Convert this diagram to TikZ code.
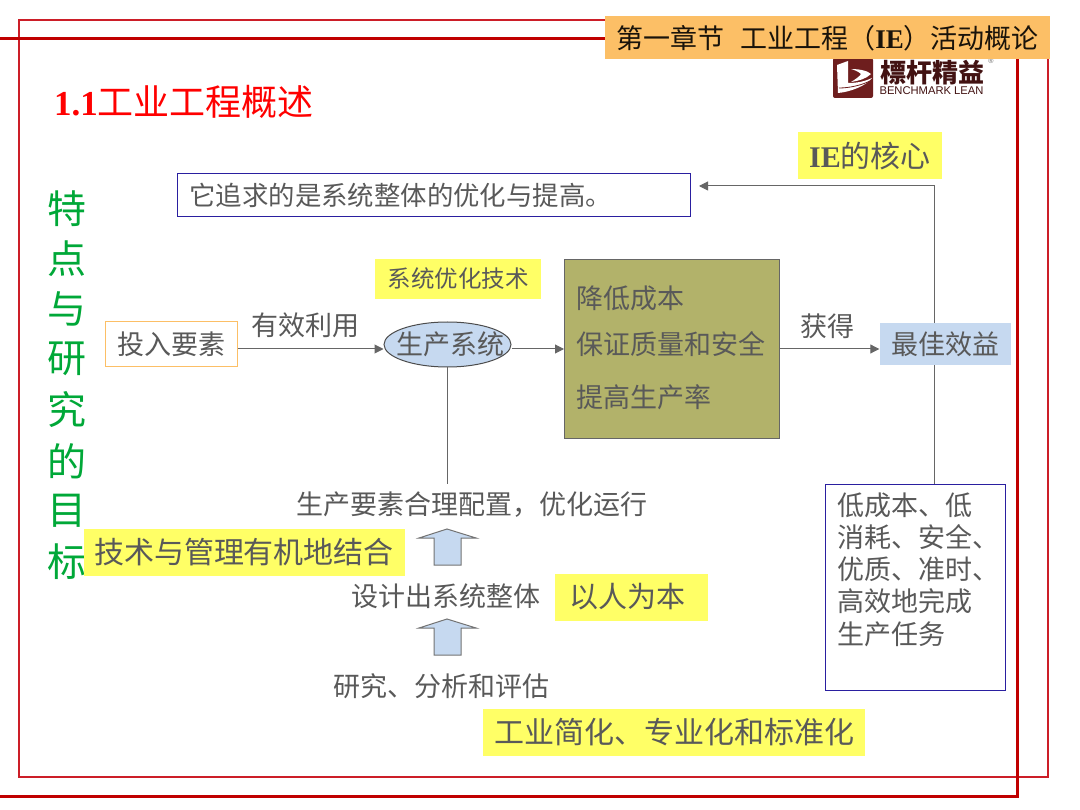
\documentclass[tikz,border=0pt]{standalone}
\usepackage{fontspec}
\usetikzlibrary{arrows.meta,shapes.geometric}
\setmainfont{Liberation Serif}
\newfontfamily\cjk{Noto Sans CJK SC}
\newfontfamily\lsans{Liberation Sans}
\newcommand{\fsz}[1]{\fontsize{#1pt}{#1pt}\selectfont}
\definecolor{framered}{HTML}{C00000}
\definecolor{thinred}{HTML}{CC1E28}
\definecolor{txt}{HTML}{595959}
\definecolor{hl}{HTML}{FFFF66}
\definecolor{orng}{HTML}{FCBF66}
\definecolor{olive}{HTML}{B2B26A}
\definecolor{lblue}{HTML}{C6D9F0}
\definecolor{navy}{HTML}{2A1FA0}
\definecolor{logored}{HTML}{6E1E1E}
\definecolor{grn}{HTML}{00A838}
\tikzset{
 x=1pt,y=-1pt,
 lab/.style={inner sep=0pt,text=txt,font=\cjk\fsz{27}},
 hlbox/.style={fill=hl,inner sep=0pt,text=txt,font=\cjk\fsz{30}},
 conn/.style={draw=black!60,line width=1pt},
 arr/.style={conn,-{Triangle[length=9pt,width=9pt]}},
 bigarrow/.style={draw=black!55,fill=lblue,line width=1pt},
 side/.style={inner sep=0pt,text=grn,font=\cjk\fsz{39}},
}
\begin{document}
\begin{tikzpicture}
\useasboundingbox[fill=white] (0,0) rectangle (1080,810);
% frames
\draw[draw=thinred,line width=1.2pt] (19,20) rectangle (1048,777);
\draw[draw=framered,line width=3pt] (0,39) -- (1017,39) -- (1017,796) -- (0,796);
% logo
\fill[logored,rounded corners=2pt] (833,58) rectangle (873,98);
\fill[white] (837,65) -- (848,61) -- (848,83) .. controls (858,83) and (866,81) .. (872,78) .. controls (866,86) and (850,92) .. (838,93) -- cycle;
\draw[logored,line width=0.8pt] (839,88) .. controls (850,88) and (862,85) .. (870,81);
\fill[white] (851,69) .. controls (860,69) and (868,71) .. (871,74) .. controls (866,79) and (858,81) .. (851,82) .. controls (856,79) and (860,76) .. (861,74) .. controls (859,72) and (855,70) .. (851,69) -- cycle;
\node[inner sep=0pt,text=logored!60!black,font=\cjk\bfseries\fsz{26}] (logoa) at (932.5,73) {標杆精益};
\node[inner sep=0pt,text=logored!60!black,font=\lsans\fsz{11.2}] (logob) at (931.5,90.5) {BENCHMARK LEAN};
\node[inner sep=0pt,text=black!60,font=\lsans\fsz{7}] (logoc) at (991,61) {®};
% header
\node[fill=orng,minimum width=445,minimum height=43,inner sep=0pt,text=black!90!orng] (hdr) at (827.5,38)
  {\cjk\fsz{27}第一章节\hspace{0.6em}工业工程（\textbf{\rmfamily IE}）活动概论};
% title
\node[inner sep=0pt,anchor=west,text=red] (title) at (54,102) {\fsz{35}\textbf{1.1}\cjk\fsz{36}工业工程概述};
% side text
\node[side] (s1) at (67,209) {特};
\node[side] (s2) at (67,259) {点};
\node[side] (s3) at (67,309) {与};
\node[side] (s4) at (67,359) {研};
\node[side] (s5) at (67,410) {究};
\node[side] (s6) at (67,461) {的};
\node[side] (s7) at (67,511) {目};
\node[side] (s8) at (67,562) {标};
% top
\node[hlbox,minimum width=144,minimum height=47] (core) at (870,156) {\rmfamily\textbf{IE}\cjk 的核心};
\node[draw=navy,line width=1pt,fill=white,minimum width=513,minimum height=43,inner sep=0pt,text=txt,font=\cjk\fsz{26.4},text width=489,align=left] (goal) at (434,195.5) {它追求的是系统整体的优化与提高。};
% row
\node[fill=hl,minimum width=166,minimum height=40,inner sep=0pt,text=txt,font=\cjk\fsz{23.5}] (tech) at (458,279) {系统优化技术};
\node[lab,draw=orng,line width=1pt,minimum width=132,minimum height=45] (input) at (171,344) {投入要素};
\node[lab] (use) at (305,325) {有效利用};
\node[draw=black!70,fill=lblue,ellipse,minimum width=127,minimum height=45,inner sep=0pt,line width=1pt] (sys) at (447.5,344.5) {};
\node[lab] (syst) at (450,344) {生产系统};
\node[draw=black!60,fill=olive,line width=1pt,minimum width=215,minimum height=179,inner sep=0pt] (res) at (672,349) {};
\node[lab,anchor=west] (r1) at (576,298) {降低成本};
\node[lab,anchor=west] (r2) at (576,344) {保证质量和安全};
\node[lab,anchor=west] (r3) at (576,397) {提高生产率};
\node[lab] (get) at (827,326) {获得};
\node[lab,fill=lblue,minimum width=131,minimum height=42] (best) at (945,344) {最佳效益};
% lower
\node[lab] (alloc) at (472,505) {生产要素合理配置，优化运行};
\node[hlbox,minimum width=321,minimum height=47] (mgmt) at (244,552) {技术与管理有机地结合};
\node[lab] (design) at (446,596) {设计出系统整体};
\node[hlbox,minimum width=153,minimum height=47,font=\cjk\fsz{29}] (human) at (631,597) {以人为本\rule{8pt}{0pt}};
\node[lab] (study) at (441,686) {研究、分析和评估};
\node[hlbox,minimum width=382,minimum height=47] (simp) at (674,732) {工业简化、专业化和标准化};
% big arrows
\draw[bigarrow] (434,565) -- (434,538) -- (419,538) -- (447,529) -- (476,538) -- (461,538) -- (461,565) -- cycle;
\draw[bigarrow] (434,655) -- (434,628) -- (419,628) -- (447,619) -- (476,628) -- (461,628) -- (461,655) -- cycle;
% task box
\node[draw=navy,line width=1pt,minimum width=180,minimum height=206,inner sep=0pt] (task) at (915,587) {};
\node[lab,anchor=north west,align=left] (taskt) at (837,492.5) {低成本、低\\[5.2pt]消耗、安全、\\[5.2pt]优质、准时、\\[5.2pt]高效地完成\\[5.2pt]生产任务};
% connectors
\coordinate (c1) at (934,186);
\coordinate (c2) at (699,186);
\coordinate (c3) at (447,484);
\draw[arr] (input.east |- res.west) -- (sys.west |- res.west);
\draw[arr] (sys.east |- res.west) -- (res.west);
\draw[arr] (res.east) -- (best.west |- res.east);
\draw[conn] (c3 |- sys.south) -- (c3);
\draw[arr] (best.north -| c1) -- (c1) -- (c2);
\draw[conn] (best.south -| c1) -- (task.north -| c1);
\end{tikzpicture}
\end{document}
